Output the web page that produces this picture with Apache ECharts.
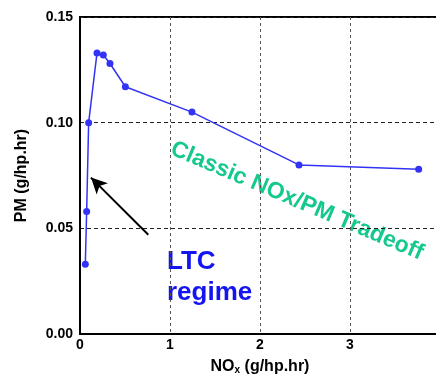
<!DOCTYPE html>
<html>
<head>
<meta charset="utf-8">
<script src="https://cdn.jsdelivr.net/npm/echarts@6/dist/echarts.min.js"></script>
<style>
  html, body { margin: 0; padding: 0; background: #fff; }
  #chart { width: 436px; height: 375px; }
</style>
</head>
<body>
<div id="chart"></div>
<script>
// NOx vs PM, in plotting order
const noxValues = [0.059, 0.074, 0.096, 0.189, 0.259, 0.333, 0.504, 1.244, 2.433, 3.763];
const pmValues = [0.033, 0.058, 0.100, 0.133, 0.132, 0.128, 0.117, 0.105, 0.080, 0.078];
const xTicks = [0, 1, 2, 3, 4];
const yTicks = [0, 0.05, 0.1, 0.15];
// arrow from tail to head, in data units
const arrowTail = [0.759, 0.047];
const arrowHead = [0.122, 0.074];

const FONT = "'Liberation Sans', Arial, sans-serif";
const LINE_COLOR = "#3333f5";
const GRID_COLOR = "#555";

const chart = echarts.init(document.getElementById("chart"), null, { renderer: "canvas" });

chart.setOption({
  backgroundColor: "#fff",
  animation: false,
  grid: {
    left: 80,
    top: 17,
    width: 360,
    height: 317,
    outerBoundsMode: "none",
    containLabel: false,
    show: true,
    borderColor: "#000",
    borderWidth: 2,
  },
  xAxis: {
    type: "value",
    min: xTicks[0],
    max: xTicks[xTicks.length - 1],
    interval: 1,
    name: "{b|NO}{s|x}{b| (g/hp.hr)}",
    nameLocation: "middle",
    nameGap: 24,
    nameTextStyle: {
      rich: {
        b: { fontFamily: FONT, fontWeight: "bold", fontSize: 16, color: "#000" },
        s: { fontFamily: FONT, fontWeight: "bold", fontSize: 10, color: "#000", verticalAlign: "bottom", padding: [7, 0, 0, 0] },
      },
    },
    axisLine: { lineStyle: { color: "#000", width: 2 } },
    axisTick: { show: false },
    axisLabel: { color: "#000", fontFamily: FONT, fontWeight: "bold", fontSize: 14, margin: 4 },
    splitLine: { show: true, lineStyle: { color: GRID_COLOR, type: [3, 3], width: 1 } },
  },
  yAxis: {
    type: "value",
    min: yTicks[0],
    max: yTicks[yTicks.length - 1],
    interval: 0.05,
    name: "PM (g/hp.hr)",
    nameLocation: "middle",
    nameGap: 50,
    nameTextStyle: { color: "#000", fontFamily: FONT, fontWeight: "bold", fontSize: 16 },
    axisLine: { lineStyle: { color: "#000", width: 2 } },
    axisTick: { show: false },
    axisLabel: {
      color: "#000",
      fontFamily: FONT,
      fontWeight: "bold",
      fontSize: 14,
      margin: 7,
      formatter: (v) => v.toFixed(2),
    },
    splitLine: { show: true, lineStyle: { color: "#222", type: [4, 3], width: 1 } },
  },
  series: [
    {
      type: "line",
      data: noxValues.map((x, i) => [x, pmValues[i]]),
      symbol: "circle",
      symbolSize: 7,
      itemStyle: { color: LINE_COLOR },
      lineStyle: { color: LINE_COLOR, width: 1.5 },
      markLine: {
        silent: true,
        symbol: ["none", "arrow"],
        symbolSize: [12, 16],
        label: { show: false },
        lineStyle: { color: "#000", width: 2, type: "solid" },
        data: [[{ coord: arrowTail }, { coord: arrowHead }]],
      },
    },
  ],
  graphic: [
    {
      type: "text",
      left: 167,
      top: 246,
      style: {
        text: "LTC\nregime",
        fill: "#1414f0",
        font: "bold 26px " + FONT,
        lineHeight: 31,
      },
    },
    {
      type: "text",
      x: 297,
      y: 201,
      rotation: -23 * Math.PI / 180,
      style: {
        text: "Classic NOx/PM Tradeoff",
        fill: "#14c88e",
        font: "bold 23px " + FONT,
        align: "center",
        verticalAlign: "middle",
      },
    },
  ],
});
</script>
</body>
</html>
